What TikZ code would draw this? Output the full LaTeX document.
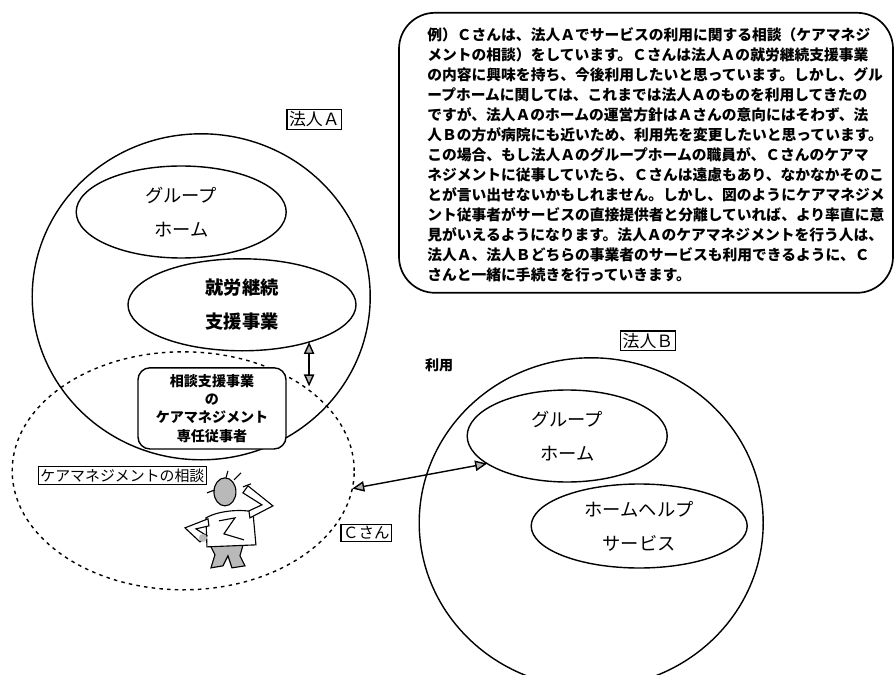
\documentclass[tikz,border=0pt]{standalone}
\usepackage{fontspec}
\setmainfont{Noto Sans CJK JP}
\usetikzlibrary{shapes.geometric}
\usetikzlibrary{arrows.meta}

\tikzset{
  corp/.style={draw, ellipse, line width=1pt, inner sep=0pt, outer sep=0pt},
  svc/.style={draw, ellipse, line width=1pt, inner sep=0pt, outer sep=0pt,
    align=center, font=\fontsize{13}{24}\selectfont},
  tag/.style={draw, fill=white, line width=0.9pt, inner sep=1.5pt,
    font=\fontsize{11}{13}\selectfont},
}

\begin{document}
\begin{tikzpicture}[>={Triangle[length=3mm,width=2.6mm,fill=gray!60]}]
    \clip (0,0) rectangle (22.375,16.85);
    % 法人A
    \node[corp, minimum width=8.45cm, minimum height=8.15cm] (corpA) at (5.03,9.43) {};
    \node[svc, minimum width=5.25cm, minimum height=2.3cm] (ghA) at (4.53,11.55) {グループ\\ホーム};
    \node[svc, minimum width=5.7cm, minimum height=2.3cm, font=\fontsize{13}{24}\selectfont\bfseries] (shuroA) at (6.05,9.23) {就労継続\\支援事業};
    \node[corp, dash pattern=on 2.5pt off 3pt, minimum width=8.55cm, minimum height=5.95cm] (sodan) at (4.58,5.08) {};
    \node[draw, fill=white, rounded corners=0.3cm, line width=1pt, minimum width=3.7cm, minimum height=2.03cm,
      align=center, font=\fontsize{10}{13}\selectfont\bfseries] (senin) at (5.3,6.64) {相談支援事業\\の\\ケアマネジメント\\専任従事者};
    \node[tag, font=\fontsize{12}{14}\selectfont] (labelA) at (7.86,13.86) {法人Ａ};
    \node[tag, font=\fontsize{10.6}{13}\selectfont] (cmlabel) at (3.06,4.96) {ケアマネジメントの相談};
    \node[tag] (csan) at (9.16,3.53) {Ｃさん};
    % 法人B
    \node[corp, minimum width=8.6cm, minimum height=8.25cm] (corpB) at (14.78,3.78) {};
    \node[svc, minimum width=5.0cm, minimum height=2.3cm] (ghB) at (14.18,5.95) {グループ\\ホーム};
    \node[svc, minimum width=5.4cm, minimum height=2.1cm] (helpB) at (15.98,3.7) {ホームヘルプ\\サービス};
    \node[tag, font=\fontsize{12}{14}\selectfont] (labelB) at (16.2,8.33) {法人Ｂ};
    \node[font=\fontsize{10}{12}\selectfont\bfseries] (riyo) at (10.98,7.73) {利用};
    % 説明
    \node[draw, line width=1.2pt, rounded corners=0.9cm, minimum width=12.35cm, minimum height=7cm] (rei) at (16.15,13.03) {};
    \node[align=left, font=\fontsize{10.5}{14.2}\selectfont\bfseries] (reitext) at (16.4,12.98) {%
      例）Ｃさんは、法人Ａでサービスの利用に関する相談（ケアマネジ\\
      メントの相談）をしています。Ｃさんは法人Ａの就労継続支援事業\\
      の内容に興味を持ち、今後利用したいと思っています。しかし、グル\\
      ープホームに関しては、これまでは法人Ａのものを利用してきたの\\
      ですが、法人Ａのホームの運営方針はＡさんの意向にはそわず、法\\
      人Ｂの方が病院にも近いため、利用先を変更したいと思っています。\\
      この場合、もし法人Ａのグループホームの職員が、Ｃさんのケアマ\\
      ネジメントに従事していたら、Ｃさんは遠慮もあり、なかなかそのこ\\
      とが言い出せないかもしれません。しかし、図のようにケアマネジメ\\
      ント従事者がサービスの直接提供者と分離していれば、より率直に意\\
      見がいえるようになります。法人Ａのケアマネジメントを行う人は、\\
      法人Ａ、法人Ｂどちらの事業者のサービスも利用できるように、Ｃ\\
      さんと一緒に手続きを行っていきます。};
    % arrows
    \draw[<->, line width=1pt] (shuroA.-29) -- (shuroA.-29 |- sodan.35);
    \draw[<->, line width=1pt] (sodan.-6) -- (ghB.199);
    % Cさん
    \begin{scope}[shift={(0,16.85)}, x=0.025cm, y=-0.025cm, line width=0.8pt]
        \filldraw[fill=gray!55] (209,543) -- (244,542) -- (240,556) -- (245,566) -- (232,568) -- (228,556)
          -- (223,566) -- (211,568) -- (215,555) -- cycle;
        \filldraw[fill=white] (206,518) .. controls (218,511) and (240,509) .. (253,512) -- (256,545) -- (207,547) -- cycle;
        \filldraw[fill=white] (208,519) -- (185,528) -- (200,542) -- (207,536) -- (196,529) -- (209,526) -- cycle;
        \fill[gray!55] (203,538) circle (4);
        \filldraw[fill=white] (250,518) -- (273,506) -- (248,486) -- (243,493) -- (262,505) -- (249,511) -- cycle;
        \filldraw[fill=gray!55] (225,492) ellipse (11 and 14);
        \draw (219,521) -- (235,518) -- (224,534) -- (244,540);
        \draw (226,478) -- (228,471) (234,480) -- (241,473) (243,487) -- (251,484) (215,490) -- (207,493);
    \end{scope}
\end{tikzpicture}
\end{document}
